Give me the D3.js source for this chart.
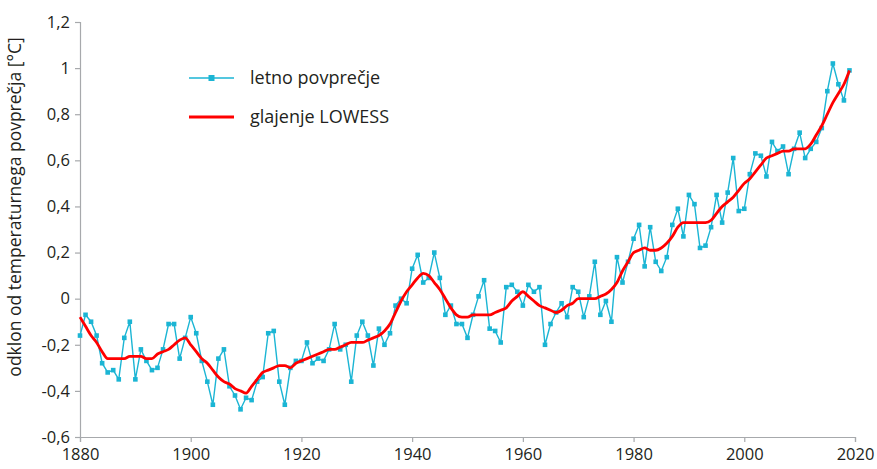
<!DOCTYPE html>
<html>
<head>
<meta charset="utf-8">
<script src="https://cdn.jsdelivr.net/npm/d3@7"></script>
<style>
  body { margin: 0; background: #fff; }
  text { font-family: "Open Sans", "Noto Sans", sans-serif; fill: #231f20; }
</style>
</head>
<body>
<div id="chart"></div>
<script>
// letna odstopanja (GISTEMP) 1880-2019
const years = d3.range(1880, 2020);
const annual = [
  -0.16, -0.07, -0.10, -0.16, -0.28, -0.32, -0.31, -0.35, -0.17, -0.10,
  -0.35, -0.22, -0.27, -0.31, -0.30, -0.22, -0.11, -0.11, -0.26, -0.17,
  -0.08, -0.15, -0.27, -0.36, -0.46, -0.26, -0.22, -0.38, -0.42, -0.48,
  -0.43, -0.44, -0.36, -0.34, -0.15, -0.14, -0.36, -0.46, -0.30, -0.27,
  -0.27, -0.19, -0.28, -0.26, -0.27, -0.22, -0.11, -0.22, -0.20, -0.36,
  -0.16, -0.10, -0.16, -0.29, -0.13, -0.20, -0.15, -0.03, 0.00, -0.02,
  0.13, 0.19, 0.07, 0.09, 0.20, 0.09, -0.07, -0.03, -0.11, -0.11,
  -0.17, -0.07, 0.01, 0.08, -0.13, -0.14, -0.19, 0.05, 0.06, 0.03,
  -0.03, 0.06, 0.03, 0.05, -0.20, -0.11, -0.06, -0.02, -0.08, 0.05,
  0.03, -0.08, 0.01, 0.16, -0.07, -0.01, -0.10, 0.18, 0.07, 0.16,
  0.26, 0.32, 0.14, 0.31, 0.16, 0.12, 0.18, 0.32, 0.39, 0.27,
  0.45, 0.41, 0.22, 0.23, 0.31, 0.45, 0.33, 0.46, 0.61, 0.38,
  0.39, 0.54, 0.63, 0.62, 0.53, 0.68, 0.64, 0.66, 0.54, 0.65,
  0.72, 0.61, 0.65, 0.68, 0.74, 0.90, 1.02, 0.93, 0.86, 0.99
];
// glajenje LOWESS
const lowess = [
  -0.08, -0.12, -0.16, -0.19, -0.23, -0.26, -0.26, -0.26, -0.26, -0.25,
  -0.25, -0.25, -0.26, -0.26, -0.24, -0.23, -0.22, -0.20, -0.18, -0.17,
  -0.20, -0.23, -0.26, -0.28, -0.31, -0.34, -0.36, -0.37, -0.39, -0.40,
  -0.41, -0.38, -0.35, -0.32, -0.31, -0.30, -0.29, -0.29, -0.30, -0.28,
  -0.27, -0.26, -0.25, -0.24, -0.23, -0.22, -0.22, -0.21, -0.20, -0.19,
  -0.19, -0.19, -0.18, -0.17, -0.16, -0.14, -0.11, -0.06, -0.01, 0.03,
  0.06, 0.09, 0.11, 0.10, 0.07, 0.04, 0.00, -0.04, -0.07, -0.08,
  -0.08, -0.07, -0.07, -0.07, -0.07, -0.06, -0.05, -0.04, -0.01, 0.01,
  0.03, 0.01, -0.01, -0.03, -0.04, -0.05, -0.06, -0.05, -0.03, -0.02,
  0.00, 0.00, 0.00, 0.00, 0.01, 0.02, 0.04, 0.07, 0.12, 0.16,
  0.20, 0.21, 0.22, 0.21, 0.21, 0.22, 0.24, 0.27, 0.31, 0.33,
  0.33, 0.33, 0.33, 0.33, 0.34, 0.37, 0.40, 0.42, 0.44, 0.47,
  0.50, 0.52, 0.55, 0.58, 0.61, 0.62, 0.63, 0.64, 0.64, 0.65,
  0.65, 0.65, 0.67, 0.71, 0.75, 0.80, 0.85, 0.89, 0.93, 0.99
];
const xTicks = [1880, 1900, 1920, 1940, 1960, 1980, 2000, 2020];
const yTicks = [-0.6, -0.4, -0.2, 0, 0.2, 0.4, 0.6, 0.8, 1, 1.2];
const legendLabels = ["letno povprečje", "glajenje LOWESS"];

const width = 877, height = 469;
const margin = {left: 80, right: 22, top: 22, bottom: 32};
const cyan = "#1bb5d4", red = "#ff0000", axisCol = "#a7a9ac";

const svg = d3.select("#chart").append("svg")
  .attr("width", width).attr("height", height);

const x = d3.scaleLinear().domain([1880, 2020]).range([margin.left, width - margin.right]);
const y = d3.scaleLinear().domain([-0.6, 1.2]).range([height - margin.bottom, margin.top]);

const fmt = d => d === 0 ? "0" : (d === 1 ? "1" : d3.format(".1f")(d).replace(".", ",").replace("−", "-"));

// y os
const yAxis = svg.append("g")
  .attr("transform", `translate(${margin.left},0)`)
  .call(d3.axisLeft(y).tickValues(yTicks).tickSize(5).tickPadding(5).tickFormat(fmt));
yAxis.select(".domain").attr("stroke", axisCol).attr("stroke-width", 1.2);
yAxis.selectAll(".tick line").attr("stroke", axisCol).attr("stroke-width", 1.2);
yAxis.selectAll("text").style("font-size", "16.5px").attr("fill", "#231f20");

// x os
const xAxis = svg.append("g")
  .attr("transform", `translate(0,${height - margin.bottom})`)
  .call(d3.axisBottom(x).tickValues(xTicks).tickSize(5).tickPadding(6).tickFormat(d3.format("d")));
xAxis.select(".domain").attr("stroke", axisCol).attr("stroke-width", 1.2);
xAxis.selectAll(".tick line").attr("stroke", axisCol).attr("stroke-width", 1.2);
xAxis.selectAll("text").style("font-size", "16.5px").attr("fill", "#231f20");

svg.append("text")
  .attr("transform", "translate(21,207) rotate(-90)")
  .attr("text-anchor", "middle")
  .style("font-size", "17.5px")
  .text("odklon od temperaturnega povprečja [°C]");

// letno povprečje
const annualData = years.map((yr, i) => ({yr, v: annual[i]}));
svg.append("path")
  .datum(annualData)
  .attr("fill", "none")
  .attr("stroke", cyan)
  .attr("stroke-width", 1.4)
  .attr("d", d3.line().x(d => x(d.yr)).y(d => y(d.v)));

svg.selectAll("rect.pt")
  .data(annualData)
  .enter().append("rect")
  .attr("class", "pt")
  .attr("x", d => x(d.yr) - 2.3)
  .attr("y", d => y(d.v) - 2.3)
  .attr("width", 4.6).attr("height", 4.6)
  .attr("fill", cyan);

// LOWESS
svg.append("path")
  .datum(years.map((yr, i) => ({yr, v: lowess[i]})))
  .attr("fill", "none")
  .attr("stroke", red)
  .attr("stroke-width", 2.8)
  .attr("stroke-linejoin", "round")
  .attr("d", d3.line().curve(d3.curveMonotoneX).x(d => x(d.yr)).y(d => y(d.v)));

// legenda
const leg = svg.append("g").attr("transform", "translate(189,78)");
leg.append("line").attr("x1", 0).attr("x2", 45).attr("y1", 0).attr("y2", 0)
  .attr("stroke", cyan).attr("stroke-width", 1.6);
leg.append("rect").attr("x", 19.5).attr("y", -3).attr("width", 6).attr("height", 6).attr("fill", cyan);
leg.append("line").attr("x1", 0).attr("x2", 45).attr("y1", 39).attr("y2", 39)
  .attr("stroke", red).attr("stroke-width", 2.8);
leg.selectAll("text.lbl")
  .data(legendLabels)
  .enter().append("text")
  .attr("class", "lbl")
  .attr("x", 61)
  .attr("y", (d, i) => i * 39 + 6)
  .style("font-size", "18px")
  .text(d => d);
</script>
</body>
</html>
